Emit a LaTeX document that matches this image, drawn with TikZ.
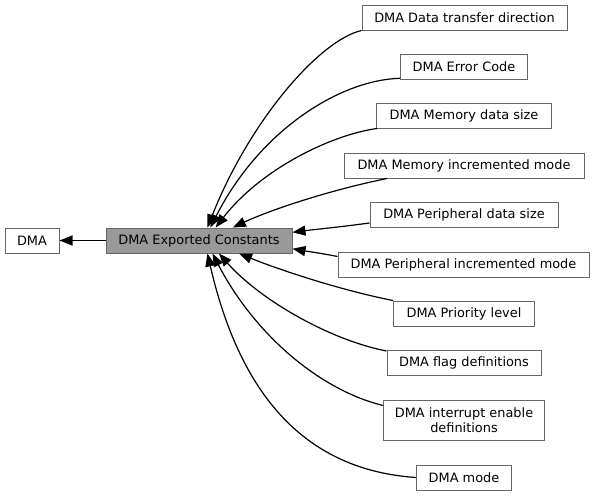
\documentclass[tikz,border=0pt]{standalone}
\usepackage{fontspec}
\setmainfont{DejaVu Sans}
\usetikzlibrary{arrows.meta}
\begin{document}
\begin{tikzpicture}[x=1pt,y=-1pt,
		grp/.style={draw=black!60, fill=white, line width=1pt, inner sep=0pt,
			minimum height=25pt, font=\fontsize{12.9}{15}\selectfont},
		cur/.style={grp, fill=black!40},
		edge/.style={line width=1.2pt, -{Triangle[length=13pt,width=10pt]}}]
		\useasboundingbox (0,0) rectangle (595,496);
		\node[grp, minimum width=54pt] (dma) at (32,240.5) {DMA};
		\node[cur, minimum width=186pt] (exp) at (199,240.5) {DMA Exported Constants};
		\node[grp, minimum width=205pt] (dtd) at (464.5,17.5) {DMA Data transfer direction};
		\node[grp, minimum width=127pt] (err) at (464,67) {DMA Error Code};
		\node[grp, minimum width=175pt] (mds) at (464,115.5) {DMA Memory data size};
		\node[grp, minimum width=240pt] (mim) at (464,165.5) {DMA Memory incremented mode};
		\node[grp, minimum width=188pt] (pds) at (464,215) {DMA Peripheral data size};
		\node[grp, minimum width=251pt] (pim) at (463.5,264.5) {DMA Peripheral incremented mode};
		\node[grp, minimum width=141pt] (pri) at (464,313.5) {DMA Priority level};
		\node[grp, minimum width=154pt] (flg) at (464,363) {DMA flag definitions};
		\node[grp, minimum width=161pt, minimum height=40pt, align=center] (int) at (464,420)
			{DMA interrupt enable\\definitions};
		\node[grp, minimum width=95pt] (mod) at (464,477.5) {DMA mode};
		\draw[edge] (exp) -- (dma);
		\draw[edge] (dtd.south west) .. controls (320,40) and (250,120) .. (exp.57);
		\draw[edge] (err.190) .. controls (340,80) and (260,130) .. (exp.49);
		\draw[edge] ([xshift=1pt]mds.south west) .. controls (330,135) and (260,170) .. (exp.38);
		\draw[edge] ([xshift=-77pt]mim.south) .. controls (330,190) and (270,210) .. (exp.21);
		\draw[edge] ([yshift=-8pt]pds.west) .. controls (340,227) and (310,230) .. (exp.5);
		\draw[edge] ([yshift=8pt]pim.west) .. controls (320,253) and (305,251) .. (exp.-5);
		\draw[edge] (pri.north west) .. controls (340,290) and (280,270) .. (exp.-18);
		\draw[edge] ([yshift=-1pt]flg.north west) .. controls (330,340) and (260,300) .. (exp.-33);
		\draw[edge] ([yshift=-6pt]int.north west) .. controls (320,390) and (255,335) .. (exp.-44);
		\draw[edge] (mod.west) .. controls (305,470) and (240,395) .. (exp.-57);
	\end{tikzpicture}
\end{document}
